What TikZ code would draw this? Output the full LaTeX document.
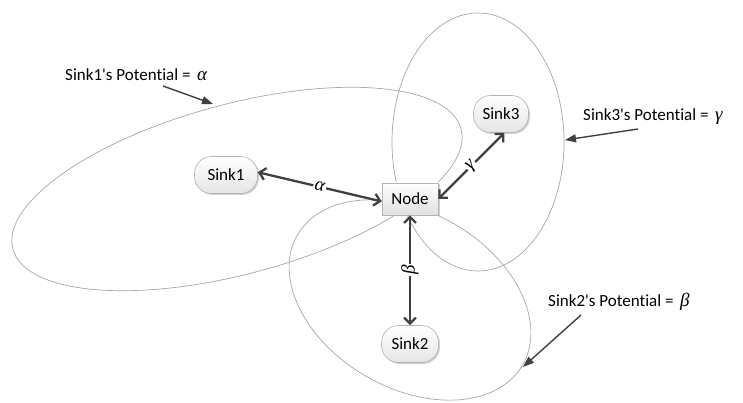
\documentclass[tikz,border=0pt]{standalone}
\usepackage{fontspec}
\setmainfont{Carlito}[Ligatures=NoCommon]
\newfontfamily\grkfont{Liberation Serif}
\newcommand{\grk}[1]{{\grkfont\itshape\fontsize{19}{20}\selectfont #1}}
\usetikzlibrary{arrows.meta,shadows,calc}
\definecolor{arrowgray}{HTML}{404040}
\definecolor{petalgray}{HTML}{A6A6A6}
\definecolor{boxborder}{HTML}{B4B4B4}
\tikzset{
  petal/.style={draw=petalgray, line width=0.7pt},
  sinkbox/.style={draw=boxborder, line width=0.6pt, rounded corners=17pt,
    top color=white, bottom color=black!10, minimum height=37pt, inner sep=2pt,
    drop shadow={shadow xshift=1.5pt, shadow yshift=-1.5pt, fill=black, opacity=0.18}},
  nodebox/.style={draw=boxborder, line width=0.6pt,
    top color=white, bottom color=black!12, minimum width=56pt, minimum height=32pt, inner sep=2pt,
    drop shadow={shadow xshift=1.5pt, shadow yshift=-1.5pt, fill=black, opacity=0.18}},
  link/.style={draw=arrowgray, line width=2.3pt, {Straight Barb[length=6pt,width=12pt]}-{Straight Barb[length=6pt,width=12pt]}},
  linklabel/.style={fill=white, inner sep=1.5pt, text=black},
  pointer/.style={draw=arrowgray, line width=1.4pt, -{Triangle[length=11pt,width=8pt]}},
  potlabel/.style={anchor=west, inner sep=0pt, text=black}
}
\begin{document}
\begin{tikzpicture}[x=1pt,y=-1pt,font=\fontsize{17}{20}\selectfont]
\useasboundingbox (0,0) rectangle (743,403);
% petals
\draw[petal, rotate around={15:(237,189)}] (237,189) ellipse [x radius=232pt, y radius=85pt];
\draw[petal] (478,142) ellipse [x radius=86pt, y radius=129pt];
\draw[petal, rotate around={-30:(410,300)}] (410,300) ellipse [x radius=130pt, y radius=88pt];
% nodes
\node[nodebox] (nd) at (410,199) {Node};
\node[sinkbox, minimum width=63pt] (s1) at (226,175) {Sink1};
\node[sinkbox, minimum width=57pt] (s2) at (410,344) {Sink2};
\node[sinkbox, minimum width=55pt] (s3) at (501,114) {Sink3};
% links
\draw[link] (s1.5) -- node[linklabel, sloped] {\grk{α}} (nd.185);
\draw[link] (nd.east) -- node[linklabel, sloped] {\grk{γ}} (s3.-80);
\draw[link] (s2.north) -- node[linklabel, sloped] {\grk{β}} (nd.south);
% potential labels
\node[potlabel] (l1) at (65,75) {Sink1\textquotesingle s Potential = \,\grk{α}};
\node[potlabel] (l3) at (583,117) {Sink3\textquotesingle s Potential = \,\grk{γ}};
\node[potlabel] (l2) at (548,302) {Sink2\textquotesingle s Potential = \,\grk{β}};
\coordinate (p1s) at (163,86);
\coordinate (p1e) at (213,104);
\coordinate (p3s) at (638,129);
\coordinate (p3e) at (565,140);
\coordinate (p2s) at (581,315);
\coordinate (p2e) at (523,367);
\draw[pointer] (p1s) -- (p1e);
\draw[pointer] (p3s) -- (p3e);
\draw[pointer] (p2s) -- (p2e);
\end{tikzpicture}
\end{document}
